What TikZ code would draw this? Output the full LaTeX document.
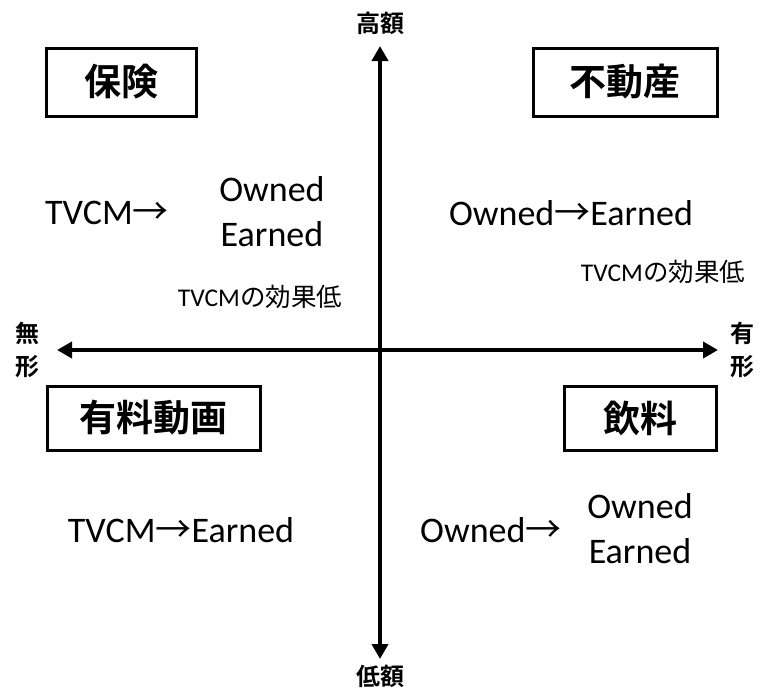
\documentclass[tikz,border=0pt]{standalone}
\usepackage{fontspec}
\setmainfont{Carlito}
\newfontfamily\cjk{Noto Sans CJK JP}
\newfontfamily\cjkb{Noto Sans CJK JP Bold}
\usetikzlibrary{arrows.meta}
\begin{document}
\begin{tikzpicture}[x=1pt,y=-1pt,
  axis/.style={line width=4pt,{Triangle[length=15pt,width=16pt]}-{Triangle[length=15pt,width=16pt]}},
  catbox/.style={draw,line width=3pt,inner sep=0pt,font=\cjkb\fontsize{37}{37}\selectfont},
  axlab/.style={font=\cjkb\fontsize{24}{24}\selectfont,inner sep=0pt},
  big/.style={font=\fontsize{36}{45}\selectfont,inner sep=0pt,align=center},
  small/.style={font=\fontsize{25.5}{28}\selectfont,inner sep=0pt}]
\useasboundingbox (0,0) rectangle (762,689);
\node[axlab] (hi) at (380,23) {高額};
\node[axlab] (lo) at (380,676) {低額};
\node[axlab] (mu1) at (28,333) {無};
\node[axlab] (mu2) at (28,367) {形};
\node[axlab] (yu1) at (742,333) {有};
\node[axlab] (yu2) at (742,367) {形};
\coordinate (t) at (380,46);
\coordinate (b) at (380,659);
\coordinate (l) at (57,350);
\coordinate (r) at (718,350);
\draw[axis] (b) -- (t);
\draw[axis] (l) -- (r);
\node[catbox,minimum width=150pt,minimum height=68pt] (hoken) at (121,82) {保険};
\node[catbox,minimum width=184pt,minimum height=68pt] (fudo) at (625,82) {不動産};
\node[catbox,minimum width=213pt,minimum height=64pt] (yuryo) at (153.5,418) {有料動画};
\node[catbox,minimum width=152pt,minimum height=64pt] (inryo) at (640,418) {飲料};
\node[big,anchor=west] (a1) at (45,213) {TVCM{\cjk →}};
\node[big] (a2) at (272,212) {Owned\\Earned};
\node[small] (a3) at (260,297) {TVCM{\cjk の効果低}};
\node[big] (b1) at (571,213) {Owned{\cjk →}Earned};
\node[small] (b2) at (663,272) {TVCM{\cjk の効果低}};
\node[big] (c1) at (181,530) {TVCM{\cjk →}Earned};
\node[big,anchor=west] (d1) at (420,530) {Owned{\cjk →}};
\node[big] (d2) at (640,529) {Owned\\Earned};
\end{tikzpicture}
\end{document}
